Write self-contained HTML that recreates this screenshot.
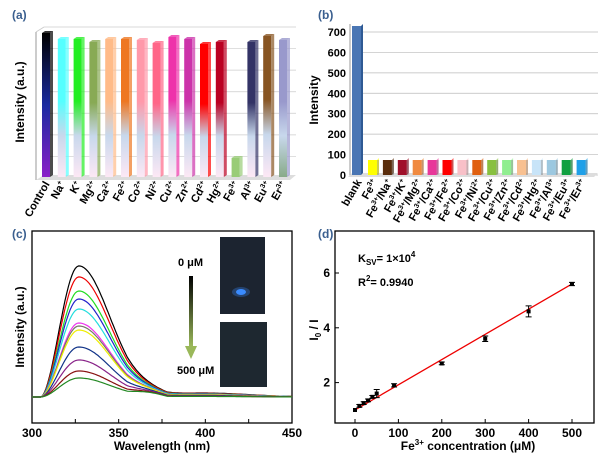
<!DOCTYPE html>
<html><head><meta charset="utf-8"><style>
body{margin:0;background:#fff;}
svg{display:block;font-family:"Liberation Sans",Arial,sans-serif;font-weight:bold;}
</style></head><body>
<svg id="s" width="606" height="468" viewBox="0 0 606 468" xmlns="http://www.w3.org/2000/svg">
<defs id="defs">
<linearGradient id="arr" x1="0" y1="0" x2="0" y2="1"><stop offset="0" stop-color="#000"/><stop offset="1" stop-color="#9ab85a"/></linearGradient>
<linearGradient id="ctl" x1="0" y1="0" x2="0" y2="1"><stop offset="0" stop-color="#000"/><stop offset="0.5" stop-color="#1a2aa0"/><stop offset="1" stop-color="#8a20c8"/></linearGradient>
</defs>
<text x="12" y="19" font-size="12" fill="#3a5f8f">(a)</text>
<text x="318" y="19" font-size="12" fill="#3a5f8f">(b)</text>
<text x="12" y="238" font-size="12" fill="#3a5f8f">(c)</text>
<text x="318" y="238" font-size="12" fill="#3a5f8f">(d)</text>
<g id="ga"></g>
<g id="gb"></g>
<g id="gc"></g>
<g id="gd"></g>
</svg>
<script>
const NS="http://www.w3.org/2000/svg";
function el(p,t,a,txt){const e=document.createElementNS(NS,t);for(const k in a)e.setAttribute(k,a[k]);if(txt!==undefined)e.innerHTML=txt;p.appendChild(e);return e;}
const defs=document.getElementById('defs');
// Panel a
const ga=document.getElementById('ga');
for(let i=0;i<7;i++){const y=27+i*(151/7);el(ga,'line',{x1:44,y1:y,x2:296,y2:y,stroke:'#ccc','stroke-width':0.7});}
el(ga,'line',{x1:36,y1:32,x2:44,y2:27,stroke:'#ccc'});
el(ga,'line',{x1:36,y1:32,x2:36,y2:180,stroke:'#999'});
el(ga,'polygon',{points:'36,180 44,175 296,175 290,180',fill:'#ddd'});
el(ga,'text',{x:0,y:0,'font-size':12,transform:'translate(24,102) rotate(-90)','text-anchor':'middle'},'Intensity (a.u.)');
const ca=[['Control','#000','#7a1fc0',33],['Na<tspan font-size="7" dy="-4">+</tspan>','#5ff','#fde8f5',39],['K<tspan font-size="7" dy="-4">+</tspan>','#2e2','#fde8f5',39],['Mg<tspan font-size="7" dy="-4">2+</tspan>','#8a5','#fde8f5',42],['Ca<tspan font-size="7" dy="-4">2+</tspan>','#fb8','#fde8f5',39],['Fe<tspan font-size="7" dy="-4">2+</tspan>','#e72','#fde8f5',39],['Co<tspan font-size="7" dy="-4">2+</tspan>','#f9a','#fde8f5',40],['Ni<tspan font-size="7" dy="-4">2+</tspan>','#f68','#fde8f5',43],['Cu<tspan font-size="7" dy="-4">2+</tspan>','#e3a','#fde8f5',37],['Zn<tspan font-size="7" dy="-4">2+</tspan>','#c3a','#fde8f5',39],['Cd<tspan font-size="7" dy="-4">2+</tspan>','#f00','#fde8f5',44],['Hg<tspan font-size="7" dy="-4">2+</tspan>','#b02','#fde8f5',42],['Fe<tspan font-size="7" dy="-4">3+</tspan>','#9c7','#282',158],['Al<tspan font-size="7" dy="-4">3+</tspan>','#336','#fde8f5',42],['Eu<tspan font-size="7" dy="-4">3+</tspan>','#852','#fde8f5',36],['Er<tspan font-size="7" dy="-4">3+</tspan>','#99c','#8a8',40]];
ca.forEach((c,i)=>{const x=42+i*15.8;
 const g=el(defs,'linearGradient',{id:'ag'+i,x1:0,y1:0,x2:0,y2:1});
 el(g,'stop',{offset:0,'stop-color':c[1]});el(g,'stop',{offset:i==12?1:0.45,'stop-color':c[1]});
 if(i!=12){el(g,'stop',{offset:0.7,'stop-color':'#c8d8ec'});}
 el(g,'stop',{offset:1,'stop-color':c[2]});
 el(ga,'rect',{x:x,y:c[3],width:8,height:177-c[3],fill:i==0?'url(#ctl)':'url(#ag'+i+')'});
 el(ga,'polygon',{points:`${x+8},${c[3]} ${x+11},${c[3]-2} ${x+11},${175} ${x+8},177`,fill:c[1],opacity:0.7});
 el(ga,'polygon',{points:`${x},${c[3]} ${x+3},${c[3]-2} ${x+11},${c[3]-2} ${x+8},${c[3]}`,fill:c[1],opacity:0.8});
 el(ga,'text',{x:0,y:0,'font-size':11,'text-anchor':'end',transform:`translate(${x+8},184) rotate(-60)`},c[0]);
});
// Panel b
const gb=document.getElementById('gb');
const y0=175,sc=143/700;
for(let v=0;v<=700;v+=100){const y=y0-v*sc;el(gb,'line',{x1:352,y1:y,x2:598,y2:y,stroke:'#bbb','stroke-width':0.7});
 el(gb,'text',{x:346,y:y+4,'font-size':11,'text-anchor':'end'},v);}
el(gb,'line',{x1:350,y1:24,x2:350,y2:176,stroke:'#999'});
el(gb,'polygon',{points:'348,177 352,173 598,173 594,177',fill:'#ddd'});
el(gb,'text',{x:0,y:0,'font-size':12,transform:'translate(318,100) rotate(-90)','text-anchor':'middle'},'Intensity');
el(gb,'rect',{x:352,y:26,width:9,height:149,fill:'#4a76b4'});
el(gb,'polygon',{points:'361,26 363,24 363,173 361,175',fill:'#2f5a94'});
el(gb,'text',{x:0,y:0,'font-size':11,'text-anchor':'end',transform:'translate(362,182) rotate(-60)'},'blank');
const cb=[['#ff0',''],['#5a2d0c','Na<tspan font-size="7" dy="-4">+</tspan>'],['#a0102a','K<tspan font-size="7" dy="-4">+</tspan>'],['#f08a40','Mg<tspan font-size="7" dy="-4">2+</tspan>'],['#e8389a','Ca<tspan font-size="7" dy="-4">2+</tspan>'],['#f00','Fe<tspan font-size="7" dy="-4">2+</tspan>'],['#f8c0c8','Co<tspan font-size="7" dy="-4">2+</tspan>'],['#e06010','Ni<tspan font-size="7" dy="-4">2+</tspan>'],['#88c040','Cu<tspan font-size="7" dy="-4">2+</tspan>'],['#90ee90','Zn<tspan font-size="7" dy="-4">2+</tspan>'],['#f8c090','Cd<tspan font-size="7" dy="-4">2+</tspan>'],['#c8e4f8','Hg<tspan font-size="7" dy="-4">2+</tspan>'],['#9cc8e0','Al<tspan font-size="7" dy="-4">3+</tspan>'],['#10a040','Eu<tspan font-size="7" dy="-4">3+</tspan>'],['#20a0e8','Er<tspan font-size="7" dy="-4">3+</tspan>']];
cb.forEach((c,i)=>{const x=368+i*14.9,t=160;
 el(gb,'rect',{x:x,y:t,width:9,height:175-t,fill:c[0]});
 el(gb,'polygon',{points:`${x+9},${t} ${x+11},${t-2} ${x+11},173 ${x+9},175`,fill:c[0],opacity:0.6});
 el(gb,'rect',{x:x+9,y:t,width:2,height:15,fill:'#000',opacity:0.2});
 el(gb,'text',{x:0,y:0,'font-size':11,'text-anchor':'end',transform:`translate(${x+10},182) rotate(-60)`},'Fe<tspan font-size="7" dy="-4">3+</tspan>'+(c[1]?'<tspan dy="4">/'+c[1]+'</tspan>':''));
});
// Panel c
const gc=document.getElementById('gc');
el(gc,'rect',{x:32,y:231,width:260,height:192,fill:'none',stroke:'#000','stroke-width':1.3});
[[300,32],[350,118.7],[400,205.3],[450,292]].forEach(a=>{el(gc,'text',{x:a[1],y:437,'font-size':12,'text-anchor':'middle'},a[0]);});
for(let w=300;w<=450;w+=25){const x=32+(w-300)*260/150;el(gc,'line',{x1:x,y1:423,x2:x,y2:419,stroke:'#000'});}
el(gc,'text',{x:162,y:450,'font-size':12,'text-anchor':'middle'},'Wavelength (nm)');
el(gc,'text',{x:0,y:0,'font-size':12,transform:'translate(24,327) rotate(-90)','text-anchor':'middle'},'Intensity (a.u.)');
const base=397;
const cols=[['#000',266],['#e00',277],['#2d2',291],['#22c',299],['#2dd',309],['#e3e',323],['#776',326],['#ee0',330],['#138',347],['#828',360],['#811',371],['#282',378]];
function wx(w){return 32+(w-300)*260/150;}
cols.forEach(c=>{const h=base-c[1];let d='';
 for(let w=300;w<=450;w+=1){let f;
  if(w<305)f=0;else if(w<327){const t=(w-305)/22;f=Math.pow(Math.sin(t*Math.PI/2),1.8);}
  else{const t=(w-327);f=Math.exp(-t*t/(2*18*18))+0.03*Math.exp(-(w-400)*(w-400)/(2*25*25))*(w<400?1:1);}
  let y=base-h*f; if(w>355&&w<378){y-=3*Math.sin((w-355)/23*Math.PI);}
  d+=(w==300?'M':'L')+wx(w).toFixed(1)+','+y.toFixed(1);}
 el(gc,'path',{d:d,fill:'none',stroke:c[0],'stroke-width':1.2});});
el(gc,'rect',{x:220,y:237,width:45,height:77,fill:'#1c2430'});
el(gc,'ellipse',{cx:241,cy:292,rx:5,ry:3,fill:'#3a8cff'});
el(gc,'ellipse',{cx:241,cy:292,rx:9,ry:5,fill:'#3a8cff',opacity:0.3});
el(gc,'rect',{x:220,y:322,width:47,height:65,fill:'#1e2830'});
el(gc,'rect',{x:189,y:276,width:4,height:70,fill:'url(#arr)'});
el(gc,'polygon',{points:'185,346 197,346 191,359',fill:'#9ab85a'});
el(gc,'text',{x:178,y:266,'font-size':11},'0 μM');
el(gc,'text',{x:177,y:374,'font-size':11},'500 μM');
// Panel d
const gd=document.getElementById('gd');
el(gd,'rect',{x:335,y:231,width:259,height:192,fill:'none',stroke:'#000','stroke-width':1.3});
function X(v){return 355+v*(217/500);} function Y(v){return 410-(v-1)*27.4;}
[0,100,200,300,400,500].forEach(v=>{el(gd,'text',{x:X(v),y:437,'font-size':12,'text-anchor':'middle'},v);el(gd,'line',{x1:X(v),y1:423,x2:X(v),y2:419,stroke:'#000'});});
[2,4,6].forEach(v=>{el(gd,'text',{x:330,y:Y(v)+4,'font-size':12,'text-anchor':'end'},v);el(gd,'line',{x1:335,y1:Y(v),x2:339,y2:Y(v),stroke:'#000'});});
el(gd,'text',{x:468,y:450,'font-size':12,'text-anchor':'middle'},'Fe<tspan font-size="8" dy="-5">3+</tspan><tspan dy="5"> concentration (μM)</tspan>');
el(gd,'text',{x:0,y:0,'font-size':12,transform:'translate(318,330) rotate(-90)','text-anchor':'middle'},'I<tspan font-size="8" dy="3">0</tspan><tspan dy="-3"> / I</tspan>');
el(gd,'text',{x:358,y:262,'font-size':11},'K<tspan font-size="8" dy="3">SV</tspan><tspan dy="-3">= 1×10</tspan><tspan font-size="8" dy="-5">4</tspan>');
el(gd,'text',{x:358,y:286,'font-size':11},'R<tspan font-size="8" dy="-5">2</tspan><tspan dy="5">= 0.9940</tspan>');
el(gd,'line',{x1:X(0),y1:Y(1.0),x2:X(500),y2:Y(5.6),stroke:'#e00','stroke-width':1.3});
[[0,1,0],[10,1.15,.05],[20,1.25,.05],[30,1.35,.05],[40,1.48,.05],[50,1.6,.15],[90,1.9,.06],[200,2.7,.05],[300,3.6,.1],[400,4.6,.2],[500,5.6,.06]].forEach(p=>{
 el(gd,'rect',{x:X(p[0])-2,y:Y(p[1])-2,width:4,height:4,fill:'#000'});
 if(p[2]){el(gd,'path',{d:`M${X(p[0])},${Y(p[1]+p[2])}V${Y(p[1]-p[2])}M${X(p[0])-3},${Y(p[1]+p[2])}h6M${X(p[0])-3},${Y(p[1]-p[2])}h6`,stroke:'#000',fill:'none'});}
});
</script>
</body></html>
